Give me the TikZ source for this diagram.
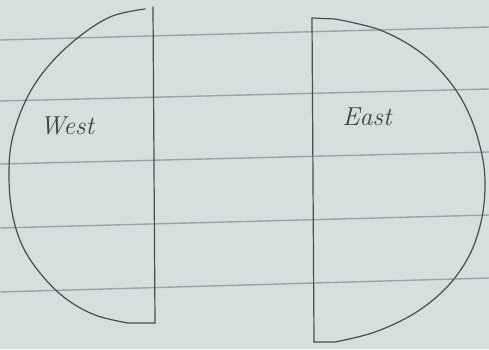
\documentclass[tikz,border=0pt]{standalone}
\begin{document}
\begin{tikzpicture}[x=1pt,y=-1pt,
  pencil/.style={draw=black!70, line width=1.2pt, line join=round, line cap=round},
  rule/.style={draw=rulecol, line width=1.4pt},
  hand/.style={font=\itshape\fontsize{26}{28}\selectfont, text=black!75, inner sep=0pt}]
\definecolor{paper}{HTML}{D9DDDD}
\definecolor{rulecol}{HTML}{93A6B0}
\fill[paper] (0,0) rectangle (489,349);
\useasboundingbox (0,0) rectangle (489,349);
% ruled lines
\draw[rule] (0,40) -- (489,27);
\draw[rule] (0,101) -- (489,89);
\draw[rule] (0,164) -- (489,152);
\draw[rule] (0,228) -- (489,215);
\draw[rule] (0,292) -- (489,278);
% west half
\coordinate (wt) at (153,7);
\coordinate (wb) at (155,323);
\draw[pencil] (wt) -- (wb);
\draw[pencil] plot[smooth, tension=0.6] coordinates {(145,9) (110,17) (75,40) (45,70) (25,102) (12,140) (9,175) (12,212) (22,245) (40,273) (65,298) (95,315) (128,323)} -- (wb);
\node[hand] (west) at (67,126) {West};
% east half
\coordinate (et) at (312,18);
\coordinate (eb) at (314,342);
\draw[pencil] (et) -- (eb);
\draw[pencil] (et) -- (335,19) plot[smooth, tension=0.6] coordinates {(335,19) (380,30) (420,52) (450,82) (470,116) (482,155) (485,187) (481,222) (469,256) (447,287) (415,313) (375,332) (335,342)} -- (eb);
\node[hand] (east) at (367,117) {East};
\end{tikzpicture}
\end{document}
